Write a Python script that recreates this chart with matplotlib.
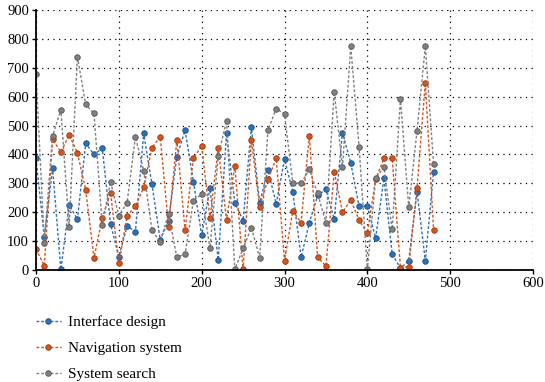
# line chart of three dotted series, recreated


import numpy as np
import matplotlib
matplotlib.use("Agg")
import matplotlib.pyplot as plt


# DATA
x_vals = list(range(0, 490, 10))

interface_design = [386, 115, 352, 2, 225, 175, 438, 400, 421, 159,
                    46, 152, 133, 473, 296, 105, 170, 392, 484, 306,
                    121, 283, 35, 473, 233, 171, 494, 233, 346, 229,
                    383, 271, 44, 164, 258, 279, 176, 475, 371, 221,
                    221, 110, 317, 55, 6, 32, 271, 32, 340]

navigation_system = [72, 15, 452, 409, 467, 406, 277, 42, 180, 268,
                     23, 187, 221, 286, 423, 461, 150, 450, 138, 386,
                     430, 179, 421, 173, 361, 2, 450, 219, 314, 386,
                     32, 205, 164, 464, 44, 14, 340, 200, 242, 173,
                     127, 314, 386, 386, 6, 12, 283, 649, 138]

system_search = [680, 95, 464, 554, 150, 738, 573, 542, 156, 306,
                 188, 233, 461, 344, 138, 97, 195, 44, 55, 240,
                 262, 75, 394, 517, 2, 75, 146, 43, 484, 559,
                 540, 302, 300, 348, 265, 164, 617, 355, 775, 427,
                 2, 317, 355, 141, 592, 217, 481, 775, 366]

series_names = ["Interface design", "Navigation system", "System search"]
series_colors = ["#2e6fb7", "#d5541c", "#808080"]
edge_colors = ["#1d4f8a", "#9c3a10", "#555555"]


# FIGURE
plt.rcParams['font.family'] = ['Liberation Serif', 'DejaVu Serif']
plt.rcParams['font.size'] = 10.5

fig = plt.figure(figsize=(5.45, 3.82), dpi=100)
ax = fig.add_axes([36/545, 1 - 270/382, (533-36)/545, (270-10)/382])

all_series = [interface_design, navigation_system, system_search]
for vals, name, col, ecol in zip(all_series, series_names, series_colors, edge_colors):
    ax.plot(x_vals, vals, linestyle=(0, (2, 1.4)), linewidth=1.0, color=col,
            marker='o', markersize=4, markerfacecolor=col, markeredgecolor=ecol,
            markeredgewidth=0.6, label=name)

ax.set_xlim(0, 600)
ax.set_ylim(0, 900)
ax.set_xticks(np.arange(0, 700, 100))
ax.set_yticks(np.arange(0, 1000, 100))

# dotted black grid
ax.grid(True, color='black', linestyle=(0, (1, 3.5)), linewidth=0.9)
ax.set_axisbelow(True)

for side in ['top', 'right']:
    ax.spines[side].set_visible(False)
for side in ['left', 'bottom']:
    ax.spines[side].set_linewidth(1.3)
    ax.spines[side].set_color('black')
ax.tick_params(axis='both', direction='out', length=3, width=1, colors='black', pad=2)

# legend below the plot, stacked
handles, labels = ax.get_legend_handles_labels()
fig.legend(handles, labels, loc='upper left', bbox_to_anchor=(30/545, 1 - 309/382),
           frameon=False, labelspacing=0.82, handlelength=1.6, handletextpad=0.5,
           borderaxespad=0, fontsize=11)

fig.savefig("out.png", dpi=100)
